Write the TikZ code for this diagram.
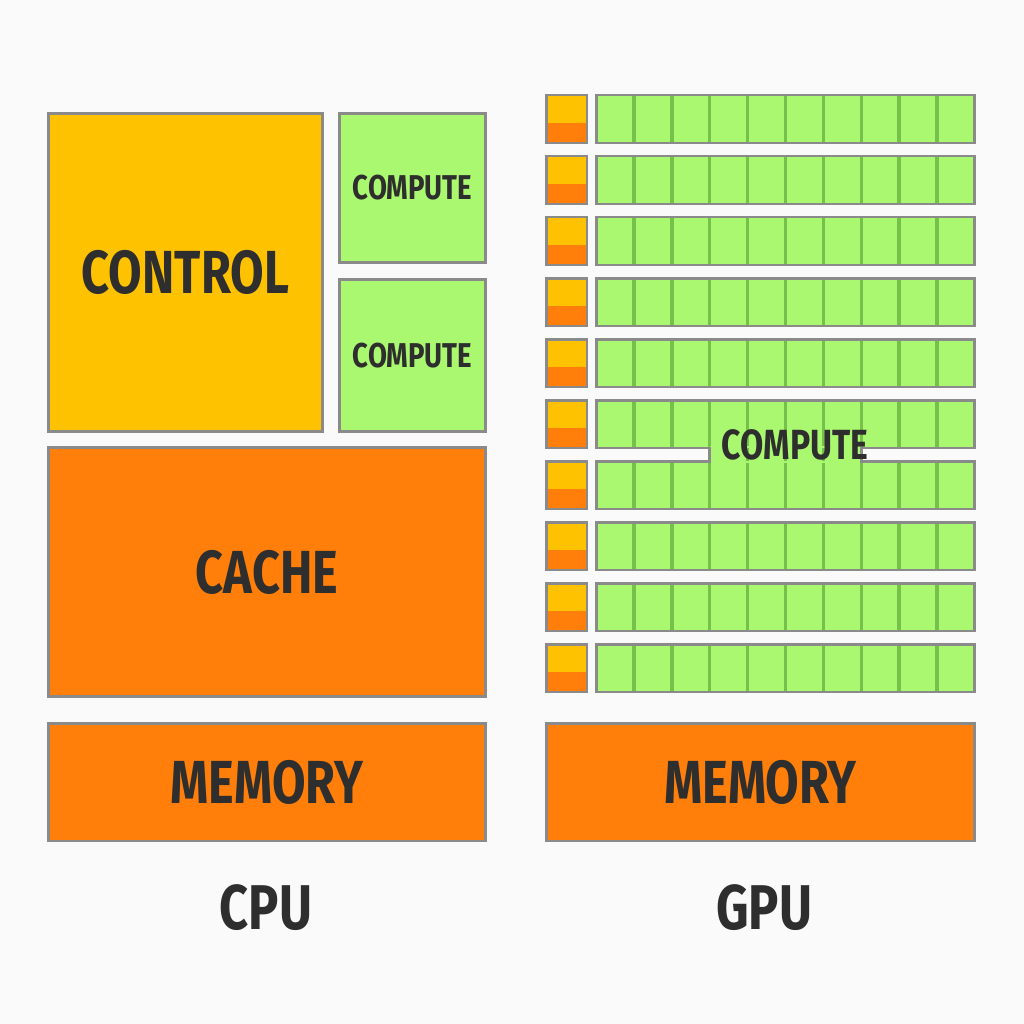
\documentclass[tikz,border=0pt]{standalone}
\usepackage{fontspec}
\setmainfont{Fira Sans}[FakeStretch=0.8]
\usepackage{tikz}
\definecolor{paper}{HTML}{FAFAFA}
\definecolor{edgegray}{HTML}{8A8A8A}
\definecolor{inkgray}{HTML}{2E2E2E}
\definecolor{ctrlyellow}{HTML}{FFC200}
\definecolor{cacheorange}{HTML}{FF7F0A}
\definecolor{alugreen}{HTML}{AAF870}
\definecolor{cellgreen}{HTML}{78C04C}
\def\cellw{0.758cm}
\tikzset{
  block/.style={draw=edgegray, line width=1.7pt, inner sep=0pt, outer sep=0pt,
    text=inkgray, font=\fontsize{34.6}{36}\selectfont\bfseries},
  ctrlblock/.style={block, fill=ctrlyellow},
  computeblock/.style={block, fill=alugreen, font=\fontsize{19.6}{21}\selectfont\bfseries,
    minimum width=2.94cm},
  cacheblock/.style={block, fill=cacheorange},
  memblock/.style={block, fill=cacheorange, minimum height=2.36cm},
  smallctrl/.style={block, fill=cacheorange, minimum width=0.82cm, minimum height=0.96cm,
    path picture={\fill[ctrlyellow] (path picture bounding box.north west)
      rectangle ([yshift=-0.56cm]path picture bounding box.north east);}},
  corebar/.style={block, fill=alugreen, minimum width=7.58cm, minimum height=0.96cm,
    path picture={\foreach \k in {1,...,9}
      \draw[cellline] ([xshift=\k*\cellw]path picture bounding box.south west)
        -- ([xshift=\k*\cellw]path picture bounding box.north west);}},
  cellline/.style={draw=cellgreen, line width=2pt},
  caption/.style={text=inkgray, inner sep=0pt, font=\fontsize{36}{38}\selectfont\bfseries}
}
\begin{document}
\begin{tikzpicture}[x=0.02cm, y=-0.02cm]
  \fill[paper] (0,0) rectangle (1024,1024);
  \useasboundingbox (0,0) rectangle (1024,1024);

  % CPU side
  \node[ctrlblock, minimum width=5.5cm, minimum height=6.38cm] (control) at (185.5,272.5) {CONTROL};
  \node[computeblock, minimum height=3.0cm] (compA) at (412.5,188) {COMPUTE};
  \node[computeblock, minimum height=3.06cm] (compB) at (412.5,355.5) {COMPUTE};
  \node[cacheblock, minimum width=8.76cm, minimum height=5.0cm] (cache) at (267,572) {CACHE};
  \node[memblock, minimum width=8.76cm] (cpumem) at (267,782) {MEMORY};
  \node[caption] (cpu) at (266,908) {CPU};

  % GPU side
  \foreach \i in {1,...,10}{
    \node[smallctrl] (ctl\i) at (566.5,{119+61*(\i-1)}) {};
    \node[corebar] (bar\i) at (785.5,{119+61*(\i-1)}) {};
  }
  % bridge joining rows 6 and 7
  \fill[alugreen] ([xshift=3*\cellw, yshift=0.9pt]bar6.south west)
    rectangle ([xshift=7*\cellw, yshift=-0.9pt]bar7.north west);
  \foreach \k in {4,5,6}
    \draw[cellline] ([xshift=\k*\cellw]bar6.south west) -- ([xshift=\k*\cellw]bar7.north west);
  \foreach \k in {3,7}
    \draw[draw=edgegray, line width=1.7pt] ([xshift=\k*\cellw, yshift=0.85pt]bar6.south west)
      -- ([xshift=\k*\cellw, yshift=-0.85pt]bar7.north west);
  \node[text=inkgray, inner sep=0pt, font=\fontsize{24}{26}\selectfont\bfseries] (gpucomp) at (795,445) {COMPUTE};

  \node[memblock, minimum width=8.58cm] (gpumem) at (760.5,782) {MEMORY};
  \node[caption] (gpu) at (764,908) {GPU};
\end{tikzpicture}
\end{document}
